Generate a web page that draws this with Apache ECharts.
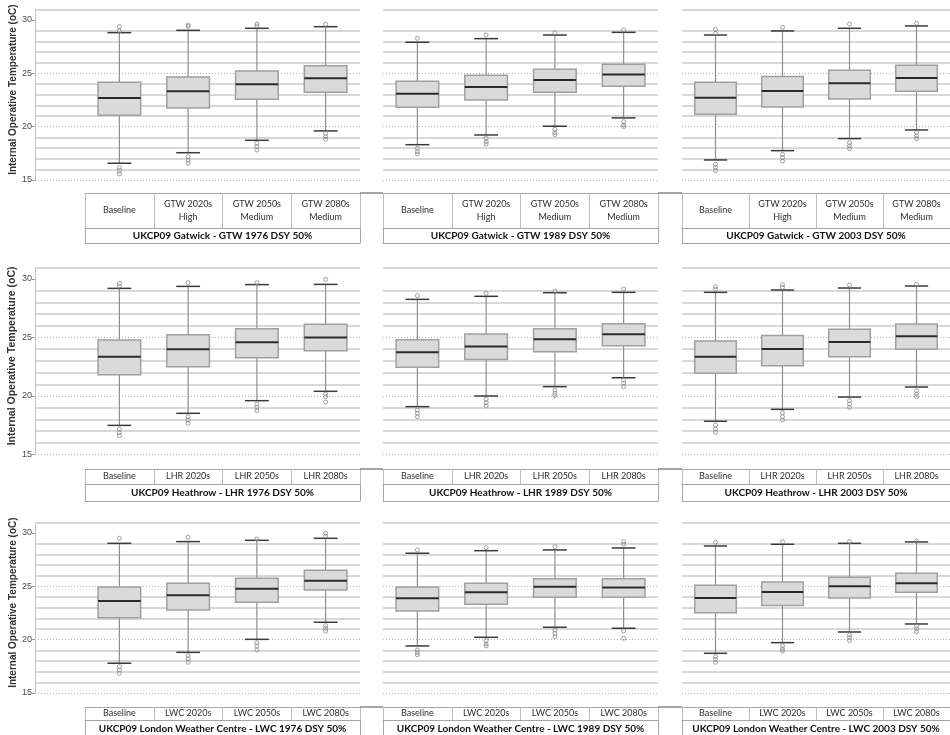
<!DOCTYPE html>
<html><head><meta charset="utf-8">
<script src="https://cdn.jsdelivr.net/npm/echarts@6/dist/echarts.min.js"></script>
<style>html,body{margin:0;padding:0;background:#fff}#c{width:950px;height:735px}</style>
</head><body><div id="c"></div>
<script>
// ---------- data ----------
const yMinValue = 15, yMaxValue = 31;
const yTickLabels = [15, 20, 25, 30];
const yAxisTitle = 'Internal Operative Temperature (oC)';

const catsGTW = ['Baseline', 'GTW 2020s\nHigh', 'GTW 2050s\nMedium', 'GTW 2080s\nMedium'];
const catsLHR = ['Baseline', 'LHR 2020s', 'LHR 2050s', 'LHR 2080s'];
const catsLWC = ['Baseline', 'LWC 2020s', 'LWC 2050s', 'LWC 2080s'];

const titleGTW1976 = 'UKCP09 Gatwick - GTW 1976 DSY 50%';
const titleGTW1989 = 'UKCP09 Gatwick - GTW 1989 DSY 50%';
const titleGTW2003 = 'UKCP09 Gatwick - GTW 2003 DSY 50%';
const titleLHR1976 = 'UKCP09 Heathrow - LHR 1976 DSY 50%';
const titleLHR1989 = 'UKCP09 Heathrow - LHR 1989 DSY 50%';
const titleLHR2003 = 'UKCP09 Heathrow - LHR 2003 DSY 50%';
const titleLWC1976 = 'UKCP09 London Weather Centre - LWC 1976 DSY 50%';
const titleLWC1989 = 'UKCP09 London Weather Centre - LWC 1989 DSY 50%';
const titleLWC2003 = 'UKCP09 London Weather Centre - LWC 2003 DSY 50%';

// [lower whisker, Q1, median, Q3, upper whisker]
const gtw1976Box = [[16.57, 21.07, 22.69, 24.16, 28.81], [17.56, 21.75, 23.32, 24.66, 29.03], [18.72, 22.57, 23.97, 25.22, 29.22], [19.60, 23.22, 24.53, 25.72, 29.37]];
const gtw1976Out = [[29.37, 28.97, 16.16, 15.88, 15.57], [29.53, 29.40, 17.19, 16.88, 16.57], [29.62, 29.44, 18.44, 18.13, 17.81], [29.59, 19.38, 19.06, 18.82]];
const gtw1989Box = [[18.31, 21.82, 23.09, 24.25, 27.91], [19.22, 22.50, 23.72, 24.81, 28.25], [20.04, 23.22, 24.38, 25.38, 28.59], [20.82, 23.78, 24.88, 25.85, 28.84]];
const gtw1989Out = [[28.28, 17.97, 17.66, 17.44], [28.59, 18.91, 18.60, 18.38], [28.81, 19.75, 19.44, 19.25], [29.06, 20.47, 20.16, 20.00]];
const gtw2003Box = [[16.88, 21.16, 22.72, 24.16, 28.59], [17.75, 21.85, 23.35, 24.69, 28.97], [18.88, 22.60, 24.06, 25.28, 29.22], [19.69, 23.31, 24.56, 25.75, 29.44]];
const gtw2003Out = [[29.12, 28.75, 16.47, 16.19, 15.88], [29.31, 17.40, 17.10, 16.78], [29.62, 18.50, 18.20, 17.94], [29.69, 19.44, 19.13, 18.88]];
const lhr1976Box = [[17.49, 21.82, 23.36, 24.79, 29.20], [18.52, 22.50, 23.99, 25.24, 29.37], [19.60, 23.27, 24.59, 25.75, 29.52], [20.40, 23.87, 25.01, 26.13, 29.54]];
const lhr1976Out = [[29.63, 29.40, 17.18, 16.87, 16.61], [29.69, 18.23, 17.95, 17.66], [29.69, 19.32, 19.03, 18.75], [29.97, 20.17, 19.94, 19.49]];
const lhr1989Box = [[19.09, 22.45, 23.73, 24.81, 28.26], [20.00, 23.13, 24.24, 25.30, 28.52], [20.80, 23.79, 24.85, 25.75, 28.83], [21.56, 24.30, 25.27, 26.18, 28.86]];
const lhr1989Out = [[28.58, 18.80, 18.52, 18.23], [28.77, 19.72, 19.43, 19.15], [28.97, 20.51, 20.23, 20.03], [29.15, 21.37, 21.09, 20.80]];
const lhr2003Box = [[17.84, 21.94, 23.36, 24.70, 28.86], [18.86, 22.59, 24.02, 25.18, 29.06], [19.91, 23.36, 24.62, 25.70, 29.23], [20.77, 23.99, 25.10, 26.15, 29.40]];
const lhr2003Out = [[29.34, 29.12, 17.52, 17.18, 16.90], [29.52, 29.29, 18.57, 18.23, 17.95], [29.49, 19.60, 19.32, 19.03], [29.54, 20.45, 20.17, 19.94]];
const lwc1976Box = [[17.79, 22.06, 23.63, 24.94, 29.03], [18.81, 22.78, 24.16, 25.28, 29.19], [20.03, 23.50, 24.78, 25.75, 29.31], [21.63, 24.66, 25.53, 26.50, 29.50]];
const lwc1976Out = [[29.50, 17.47, 17.16, 16.85], [29.60, 18.50, 18.19, 17.88], [29.44, 19.72, 19.41, 19.03], [29.97, 29.72, 21.31, 21.07, 20.82]];
const lwc1989Box = [[19.41, 22.69, 23.88, 24.94, 28.10], [20.22, 23.32, 24.44, 25.28, 28.34], [21.16, 23.97, 24.97, 25.72, 28.41], [21.07, 23.97, 24.88, 25.72, 28.59]];
const lwc1989Out = [[28.41, 19.03, 18.78, 18.57], [28.62, 19.91, 19.60, 19.41], [28.72, 20.91, 20.60, 20.28], [29.19, 28.94, 20.82, 20.13]];
const lwc2003Box = [[18.72, 22.53, 23.91, 25.10, 28.78], [19.72, 23.19, 24.47, 25.41, 28.94], [20.72, 23.91, 25.00, 25.84, 29.03], [21.47, 24.44, 25.28, 26.22, 29.16]];
const lwc2003Out = [[29.13, 18.41, 18.16, 17.88], [29.19, 19.41, 19.13, 18.94], [29.19, 20.44, 20.19, 19.91], [29.22, 21.28, 21.00, 20.75]];

const panels = [
  { title: titleGTW1976, cats: catsGTW, box: gtw1976Box, out: gtw1976Out },
  { title: titleGTW1989, cats: catsGTW, box: gtw1989Box, out: gtw1989Out },
  { title: titleGTW2003, cats: catsGTW, box: gtw2003Box, out: gtw2003Out },
  { title: titleLHR1976, cats: catsLHR, box: lhr1976Box, out: lhr1976Out },
  { title: titleLHR1989, cats: catsLHR, box: lhr1989Box, out: lhr1989Out },
  { title: titleLHR2003, cats: catsLHR, box: lhr2003Box, out: lhr2003Out },
  { title: titleLWC1976, cats: catsLWC, box: lwc1976Box, out: lwc1976Out },
  { title: titleLWC1989, cats: catsLWC, box: lwc1989Box, out: lwc1989Out },
  { title: titleLWC2003, cats: catsLWC, box: lwc2003Box, out: lwc2003Out }
];

// ---------- layout ----------
const rowsLayout = [
  { top: 9.3, height: 170.7, tTop: 193, tSep: 228, tBot: 243, nameSize: 10, labelLH: 13 },
  { top: 267.3, height: 187.2, tTop: 469, tSep: 484, tBot: 501, nameSize: 10.5, labelLH: 12 },
  { top: 522.3, height: 170.7, tTop: 707, tSep: 720, tBot: 738, nameSize: 10, labelLH: 12 }
];
const colsLayout = [
  { plotL: 35, catL: 85, plotR: 360 },
  { plotL: 383, catL: 383, plotR: 658 },
  { plotL: 682, catL: 682, plotR: 954 }
];
const TABLE_LINE = '#a6a6a6';
const TABLE_TICK = '#bdbdbd';
const minorColors = ['rgba(0,0,0,0)', '#cbcbcb', '#cbcbcb', '#cbcbcb', '#cbcbcb'];

function renderBox(params, api) {
  const x = api.value(0);
  const c0 = api.coord([x, api.value(1)]);
  const cx = c0[0], yLo = c0[1];
  const yQ1 = api.coord([x, api.value(2)])[1];
  const yMed = api.coord([x, api.value(3)])[1];
  const yQ3 = api.coord([x, api.value(4)])[1];
  const yHi = api.coord([x, api.value(5)])[1];
  const bw = api.size([1, 0])[0] * 0.62;
  const cw = bw * 0.56;
  const stem = { stroke: '#8e8e8e', lineWidth: 1.2 };
  const cap = { stroke: '#3a3a3a', lineWidth: 1.5 };
  return {
    type: 'group',
    children: [
      { type: 'line', shape: { x1: cx, y1: yHi, x2: cx, y2: yQ3 }, style: stem },
      { type: 'line', shape: { x1: cx, y1: yQ1, x2: cx, y2: yLo }, style: stem },
      { type: 'line', shape: { x1: cx - cw / 2, y1: yHi, x2: cx + cw / 2, y2: yHi }, style: cap },
      { type: 'line', shape: { x1: cx - cw / 2, y1: yLo, x2: cx + cw / 2, y2: yLo }, style: cap },
      { type: 'rect', shape: { x: cx - bw / 2, y: yQ3, width: bw, height: yQ1 - yQ3 }, style: { fill: '#dadada', stroke: '#a0a0a0', lineWidth: 1.5 } },
      { type: 'line', shape: { x1: cx - bw / 2, y1: yMed, x2: cx + bw / 2, y2: yMed }, style: { stroke: '#2a2a2a', lineWidth: 2 } }
    ]
  };
}

const grid = [], xAxis = [], yAxis = [], series = [], graphic = [];
panels.forEach((p, pi) => {
  const r = Math.floor(pi / 3), c = pi % 3;
  const row = rowsLayout[r], col = colsLayout[c];
  const gBg = grid.length;
  grid.push({ left: col.plotL, top: row.top, width: col.plotR - col.plotL, height: row.height });
  const gBox = grid.length;
  grid.push({ left: col.catL, top: row.top, width: col.plotR - col.catL, height: row.height });
  const gBottom = row.top + row.height;

  xAxis.push({ gridIndex: gBg, type: 'value', min: 0, max: 1, show: false });
  const catX = xAxis.length;
  xAxis.push({
    gridIndex: gBox, type: 'category', data: p.cats, position: 'bottom',
    offset: row.tTop - gBottom,
    axisLine: { show: true, onZero: false, lineStyle: { color: TABLE_LINE, width: 1 } },
    axisTick: { show: true, interval: 0, length: row.tSep - row.tTop, lineStyle: { color: TABLE_TICK, width: 1 } },
    axisLabel: { interval: 0, margin: (row.tSep - row.tTop) / 2, verticalAlign: 'middle', fontFamily: 'Lato', fontSize: 9, color: '#2f2f2f', lineHeight: row.labelLH },
    splitLine: { show: false }
  });
  xAxis.push({
    gridIndex: gBox, type: 'category', data: [p.title], position: 'bottom',
    offset: row.tSep - gBottom,
    axisLine: { show: true, onZero: false, lineStyle: { color: TABLE_LINE, width: 1 } },
    axisTick: { show: true, length: row.tBot - row.tSep, lineStyle: { color: TABLE_LINE, width: 1 } },
    axisLabel: { margin: (row.tBot - row.tSep) / 2, verticalAlign: 'middle', fontFamily: 'Lato', fontWeight: 'bold', fontSize: 10, color: '#111' },
    splitLine: { show: false }
  });
  xAxis.push({
    gridIndex: gBox, type: 'category', data: [''], position: 'bottom',
    offset: row.tBot - gBottom,
    axisLine: { show: true, onZero: false, lineStyle: { color: TABLE_LINE, width: 1 } },
    axisTick: { show: false }, axisLabel: { show: false }, splitLine: { show: false }
  });

  yAxis.push({
    gridIndex: gBg, type: 'value', position: 'left', min: yMinValue, max: yMaxValue, interval: 1,
    axisLine: { show: false }, axisTick: { show: false }, axisLabel: { show: false },
    splitLine: { show: true, lineStyle: { color: minorColors, width: 1.5 } }
  });
  const first = c === 0;
  yAxis.push({
    gridIndex: gBg, type: 'value', position: 'left', min: yMinValue, max: yMaxValue, interval: 5,
    axisLine: { show: first, onZero: false, lineStyle: { color: '#c4c4c4' } },
    axisTick: { show: first, length: 3, customValues: yTickLabels, lineStyle: { color: '#999' } },
    axisLabel: { show: first, customValues: yTickLabels, margin: 3, fontFamily: 'Liberation Sans', fontSize: 9, color: '#4a4a4a' },
    splitLine: { show: true, showMaxLine: false, lineStyle: { color: '#b0b0b0', type: [1, 2], width: 1 } },
    name: first ? yAxisTitle : '', nameLocation: 'middle', nameGap: 17,
    nameTextStyle: { fontFamily: 'Liberation Sans', fontWeight: 'bold', fontSize: row.nameSize, color: '#333', padding: [0, 0, 0, 10] }
  });
  const boxY = yAxis.length;
  yAxis.push({ gridIndex: gBox, type: 'value', position: 'left', min: yMinValue, max: yMaxValue, show: false });

  series.push({
    type: 'custom', xAxisIndex: catX, yAxisIndex: boxY, renderItem: renderBox, z: 3,
    encode: { x: 0, y: [1, 2, 3, 4, 5] },
    data: p.box.map((b, i) => [i].concat(b))
  });
  const outData = [];
  p.out.forEach((arr, i) => arr.forEach(v => outData.push([i, v])));
  series.push({
    type: 'scatter', xAxisIndex: catX, yAxisIndex: boxY, z: 4, data: outData,
    symbol: 'circle', symbolSize: 4,
    itemStyle: { color: 'rgba(0,0,0,0)', borderColor: '#8a8a8a', borderWidth: 1 }
  });
});

// connector strokes between neighbouring tables
rowsLayout.forEach(row => {
  for (let c = 0; c < colsLayout.length - 1; c++) {
    graphic.push({ type: 'line', silent: true, z: 10,
      shape: { x1: colsLayout[c].plotR, y1: row.tTop, x2: colsLayout[c + 1].catL, y2: row.tTop },
      style: { stroke: '#6a6a6a', lineWidth: 1.2 } });
  }
});

const chart = echarts.init(document.getElementById('c'), null, { renderer: 'canvas' });
chart.setOption({ animation: false, backgroundColor: '#fff', grid, xAxis, yAxis, series, graphic });
</script></body></html>
